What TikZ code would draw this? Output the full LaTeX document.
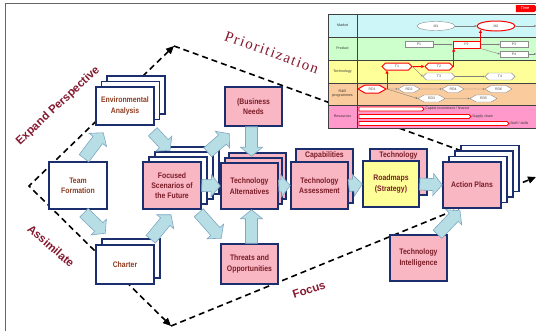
\documentclass[tikz,border=0pt]{standalone}
\usepackage{fontspec}
\setmainfont{Liberation Sans}
\newfontfamily\boxfont[FakeStretch=0.86]{Liberation Sans}
\newfontfamily\prioritfont[LetterSpace=10]{Liberation Serif}
\usetikzlibrary{calc,arrows.meta,shapes.geometric,shapes.symbols}
\definecolor{navyline}{HTML}{1B2E6E}
\definecolor{pinkbox}{HTML}{F9B6C3}
\definecolor{yellowbox}{HTML}{FFFF99}
\definecolor{arrfill}{HTML}{B7DEE4}
\definecolor{arrline}{HTML}{7FA6C2}
\definecolor{lblred}{HTML}{85192F}
\definecolor{wtxt}{HTML}{8E3E22}
\definecolor{ptxt}{HTML}{7A1D27}
\definecolor{insetcyan}{HTML}{CCF6F7}
\definecolor{insetgreen}{HTML}{CCFFCC}
\definecolor{insetyellow}{HTML}{FFFF99}
\definecolor{insetorange}{HTML}{FACB9C}
\definecolor{insetpink}{HTML}{FF99CC}

\begin{document}
\begin{tikzpicture}[x=1pt,y=-1pt,>={Triangle[length=8pt,width=7pt]},
    wbox/.style={draw=navyline,line width=1.5pt,fill=white,inner sep=0pt,align=center,
      minimum width=58pt,minimum height=47pt,text=wtxt,font=\boxfont\bfseries\fontsize{8}{10.3}\selectfont},
    pbox/.style={wbox,fill=pinkbox,text=ptxt},
    dashline/.style={line width=1.6pt,dash pattern=on 6pt off 4pt},
    fatarrow/.style={fill=arrfill,draw=arrline,line width=0.6pt,line join=miter},
    biglabel/.style={text=lblred,font=\bfseries\fontsize{11.5}{13}\selectfont},
    tinytxt/.style={font=\fontsize{3.6}{4.2}\selectfont,text=black!80,inner sep=0.5pt},
    gshape/.style={draw=black!45,fill=white,line width=0.4pt,inner sep=0pt,font=\fontsize{3.5}{4}\selectfont,text=black!70},
    rshape/.style={gshape,draw=red,line width=1pt},
    hexa/.style={signal,signal to=east and west},
    rdshape/.style={signal,signal to=east and west,signal pointer angle=60},
    glink/.style={draw=black!50,line width=0.4pt,-{Triangle[length=1.8pt,width=1.8pt]}},
    rlink/.style={draw=red,line width=1pt,-{Triangle[length=3pt,width=3pt]}},
    resbar/.style={signal,signal to=east,draw=red,fill=white,line width=0.8pt,minimum height=4pt,inner sep=0pt}]
  \useasboundingbox (0,0) rectangle (536,330);
  \draw[black!60,line width=0.8pt] (5,331) -- (5,3) -- (537,3);

  % the loop of dashed arrows
  \coordinate (lv) at (29,186);
  \coordinate (tv) at (174,46);
  \coordinate (bv) at (171,326);
  \coordinate (te) at (470,154);
  \coordinate (be) at (536,177);
  \draw[dashline,<->] (tv) -- (lv) -- (bv);
  \draw[dashline] (tv) -- (te);
  \draw[dashline,->] (bv) -- (be);

  \node[biglabel,rotate=43] (expand) at (58,106) {Expand Perspective};
  \node[biglabel,rotate=-41] (assim) at (51,246) {Assimilate};
  \node[biglabel,rotate=18] (focuslbl) at (309,290) {Focus};
  \node[text=lblred,font=\prioritfont\fontsize{15}{18}\selectfont,rotate=-20,anchor=base] (priolbl) at (270,57) {Prioritization};

  % boxes
  \node[wbox] (team) at (78,185.5) {Team\\Formation};
  \foreach \k in {2,1}
    \node[wbox,minimum height=38pt] (env\k) at ({125+5.5*\k},{106-5.5*\k}) {};
  \node[wbox,minimum height=38pt] (env) at (125,106) {Environmental\\Analysis};
  \node[wbox,minimum height=39pt] (charter1) at (131,258.5) {};
  \node[wbox,minimum height=39pt] (charter) at (125,264.5) {Charter};
  \foreach \k in {3,2,1}
    \node[wbox] (focus\k) at ({172+6*\k},{185.5-5*\k}) {};
  \node[pbox] (focus) at (172,185.5) {Focused\\Scenarios of\\the Future};
  \node[pbox,minimum width=57pt,minimum height=39pt] (busin) at (253.5,106.5) {(Business\\Needs};
  \foreach \k in {2,1}
    \node[pbox,minimum width=57pt,minimum height=46pt] (techalt\k) at ({249.5+4*\k},{186-5*\k}) {};
  \node[pbox,minimum width=57pt,minimum height=46pt] (techalt) at (249.5,186) {Technology\\Alternatives};
  \node[pbox,minimum width=57pt,minimum height=40pt] (threat) at (249.5,264) {Threats and\\Opportunities};
  \node[pbox,minimum width=57pt,minimum height=54pt] (capab) at (324.5,176) {};
  \node[anchor=north,inner sep=0pt,text=ptxt,font=\boxfont\bfseries\fontsize{8}{10.3}\selectfont] (capabtxt) at ([yshift=-3pt]capab.north) {Capabilities};
  \node[pbox,minimum width=57pt,minimum height=47pt] (assess) at (319.5,185.5) {Technology\\Assessment};
  \node[pbox,minimum width=57pt,minimum height=46pt] (techrm) at (398.5,172) {};
  \node[anchor=north,inner sep=0pt,text=ptxt,font=\boxfont\bfseries\fontsize{8}{10.3}\selectfont] (techrmtxt) at ([yshift=-3pt]techrm.north) {Technology};
  \node[wbox,fill=yellowbox,text=ptxt,minimum width=56pt,minimum height=46pt] (road) at (391,184) {Roadmaps\\(Strategy)};
  \foreach \k in {3,2,1}
    \node[wbox,minimum height=46pt] (action\k) at ({472+6*\k},{185-5.5*\k}) {};
  \node[pbox,minimum height=46pt] (action) at (472,185) {Action Plans};
  \node[pbox,minimum width=57pt,minimum height=46pt] (intel) at (418.5,258) {Technology\\Intelligence};

  % fat arrows
  \foreach \a/\da/\b/\db in {team.north/{6,-3}/env.south west/{8,7},
      env.south east/{-2,6}/focus.north/{-2,-11},
      team.south/{6,3}/charter.north west/{10,-11},
      charter.north east/{-4,-5}/focus.south/{-1,5},
      focus.south east/{-3,3}/threat.north west/{1,-5},
      focus.east/{0,0}/techalt.west/{0,0},
      focus.north east/{6,-9}/busin.south west/{5,7},
      busin.south/{-2,0}/techalt.north/{2,-6},
      threat.north/{2,0}/techalt.south/{2,0},
      techalt.east/{0,0}/assess.west/{0,0},
      assess.east/{0,0}/road.west/{0,0},
      road.east/{0,0}/action.west/{0,0},
      intel.north/{19,0}/action.south/{-12,2}}
    \draw[fatarrow] let \p1=($(\b)+(\db)-(\a)-(\da)$), \n1={atan2(\y1,\x1)}, \n2={veclen(\x1,\y1)} in
      ($(\a)+(\da)+(\n1+90:6pt)$) -- ($(\a)+(\da)+(\n1:\n2-9pt)+(\n1+90:6pt)$)
      -- ($(\a)+(\da)+(\n1:\n2-9pt)+(\n1+90:11pt)$) -- ($(\b)+(\db)$)
      -- ($(\a)+(\da)+(\n1:\n2-9pt)+(\n1-90:11pt)$) -- ($(\a)+(\da)+(\n1:\n2-9pt)+(\n1-90:6pt)$)
      -- ($(\a)+(\da)+(\n1-90:6pt)$) -- cycle;

  % roadmap inset
  \foreach \r/\yt/\yb/\c/\t in {mkt/14/37/insetcyan/Market,prd/37/60/insetgreen/Product,
      tec/60/83/insetyellow/Technology,rnd/83/105/insetorange/{R\&D\\programmes},res/105/128/insetpink/Resources}{
    \draw[fill=\c,draw=black!75,line width=0.6pt] (328,\yt) rectangle (537,\yb);
    \node[tinytxt,align=center] (\r) at (342.5,{(\yt+\yb)/2}) {\t};
  }
  \draw[black!75,line width=0.6pt] (357,14) -- (357,128);
  \node[fill=red,signal,signal to=east,minimum width=22pt,minimum height=7pt,inner sep=0pt,
    text=white,font=\itshape\fontsize{4}{4}\selectfont] (time) at (525,8.5) {Time};

  \node[gshape,ellipse,minimum width=38pt,minimum height=9pt] (m1) at (436,26) {M1};
  \node[rshape,ellipse,minimum width=38pt,minimum height=10pt] (m2) at (496,26) {M2};
  \node[gshape,minimum width=28pt,minimum height=6pt] (p1) at (419,44.5) {P1};
  \node[rshape,minimum width=27pt,minimum height=7pt] (p2) at (466.5,44.5) {P2};
  \node[gshape,minimum width=28pt,minimum height=6pt] (p3) at (514,44.5) {P3};
  \node[gshape,minimum width=28pt,minimum height=6pt] (p4) at (514,54) {P4};
  \node[rshape,hexa,minimum width=30pt,minimum height=7pt] (t1) at (397,66.5) {T1};
  \node[rshape,hexa,minimum width=28pt,minimum height=7pt] (t2) at (439,66.5) {T2};
  \node[gshape,hexa,minimum width=32pt,minimum height=7pt] (t3) at (439,76.5) {T3};
  \node[gshape,hexa,minimum width=30pt,minimum height=7pt] (t4) at (500,76.5) {T4};
  \node[rshape,rdshape,minimum width=28pt,minimum height=8pt] (rd1) at (372,89) {RD1};
  \node[gshape,rdshape,minimum width=22pt,minimum height=7pt] (rd2) at (409,89) {RD2};
  \node[gshape,rdshape,minimum width=22pt,minimum height=7pt] (rd4) at (453,89) {RD4};
  \node[gshape,rdshape,minimum width=27pt,minimum height=7pt] (rd6) at (498.5,89) {RD6};
  \node[gshape,rdshape,minimum width=27pt,minimum height=7pt] (rd3) at (431.5,98.5) {RD3};
  \node[gshape,rdshape,minimum width=27pt,minimum height=7pt] (rd5) at (483.5,98.5) {RD5};
  \coordinate (mx) at (536,26);
  \coordinate (px) at (536,54);

  \draw[glink] (m1) -- (m2);
  \draw[glink] (m2) -- (mx);
  \draw[glink] (p1) -- (p2);
  \draw[glink] (p2) -- (p3);
  \draw[glink] (p2.south east) -- (p4.west);
  \draw[glink] (p4) -- (px);
  \draw[glink] (t1.east) -- (t3.west);
  \draw[glink] (t3) -- (t4);
  \draw[glink] (rd1) -- (rd2);
  \draw[glink] (rd2) -- (rd4);
  \draw[glink] (rd4) -- (rd6);
  \draw[glink] (rd1.east) -- (rd3.west);
  \draw[glink] (rd3) -- (rd5);
  \draw[rlink] (rd1.east) -- (rd1.east |- t1.south);
  \draw[rlink] (t1) -- (t2);
  \draw[rlink] (t2.east) -- (t2.east |- p2.south);
  \draw[rlink] (p2.north east) -- (p2.north east |- m2.south west);

  \node[resbar,minimum width=65pt] (res1) at (390.5,109) {};
  \node[resbar,minimum width=112pt] (res2) at (414,116.5) {};
  \node[resbar,minimum width=150pt] (res3) at (433,123.5) {};
  \node[tinytxt,anchor=west] (res1t) at (res1.east) {Capital investment / finance};
  \node[tinytxt,anchor=west] (res2t) at (res2.east) {Supply chain};
  \node[tinytxt,anchor=west] (res3t) at (res3.east) {Staff / skills};
\end{tikzpicture}
\end{document}
